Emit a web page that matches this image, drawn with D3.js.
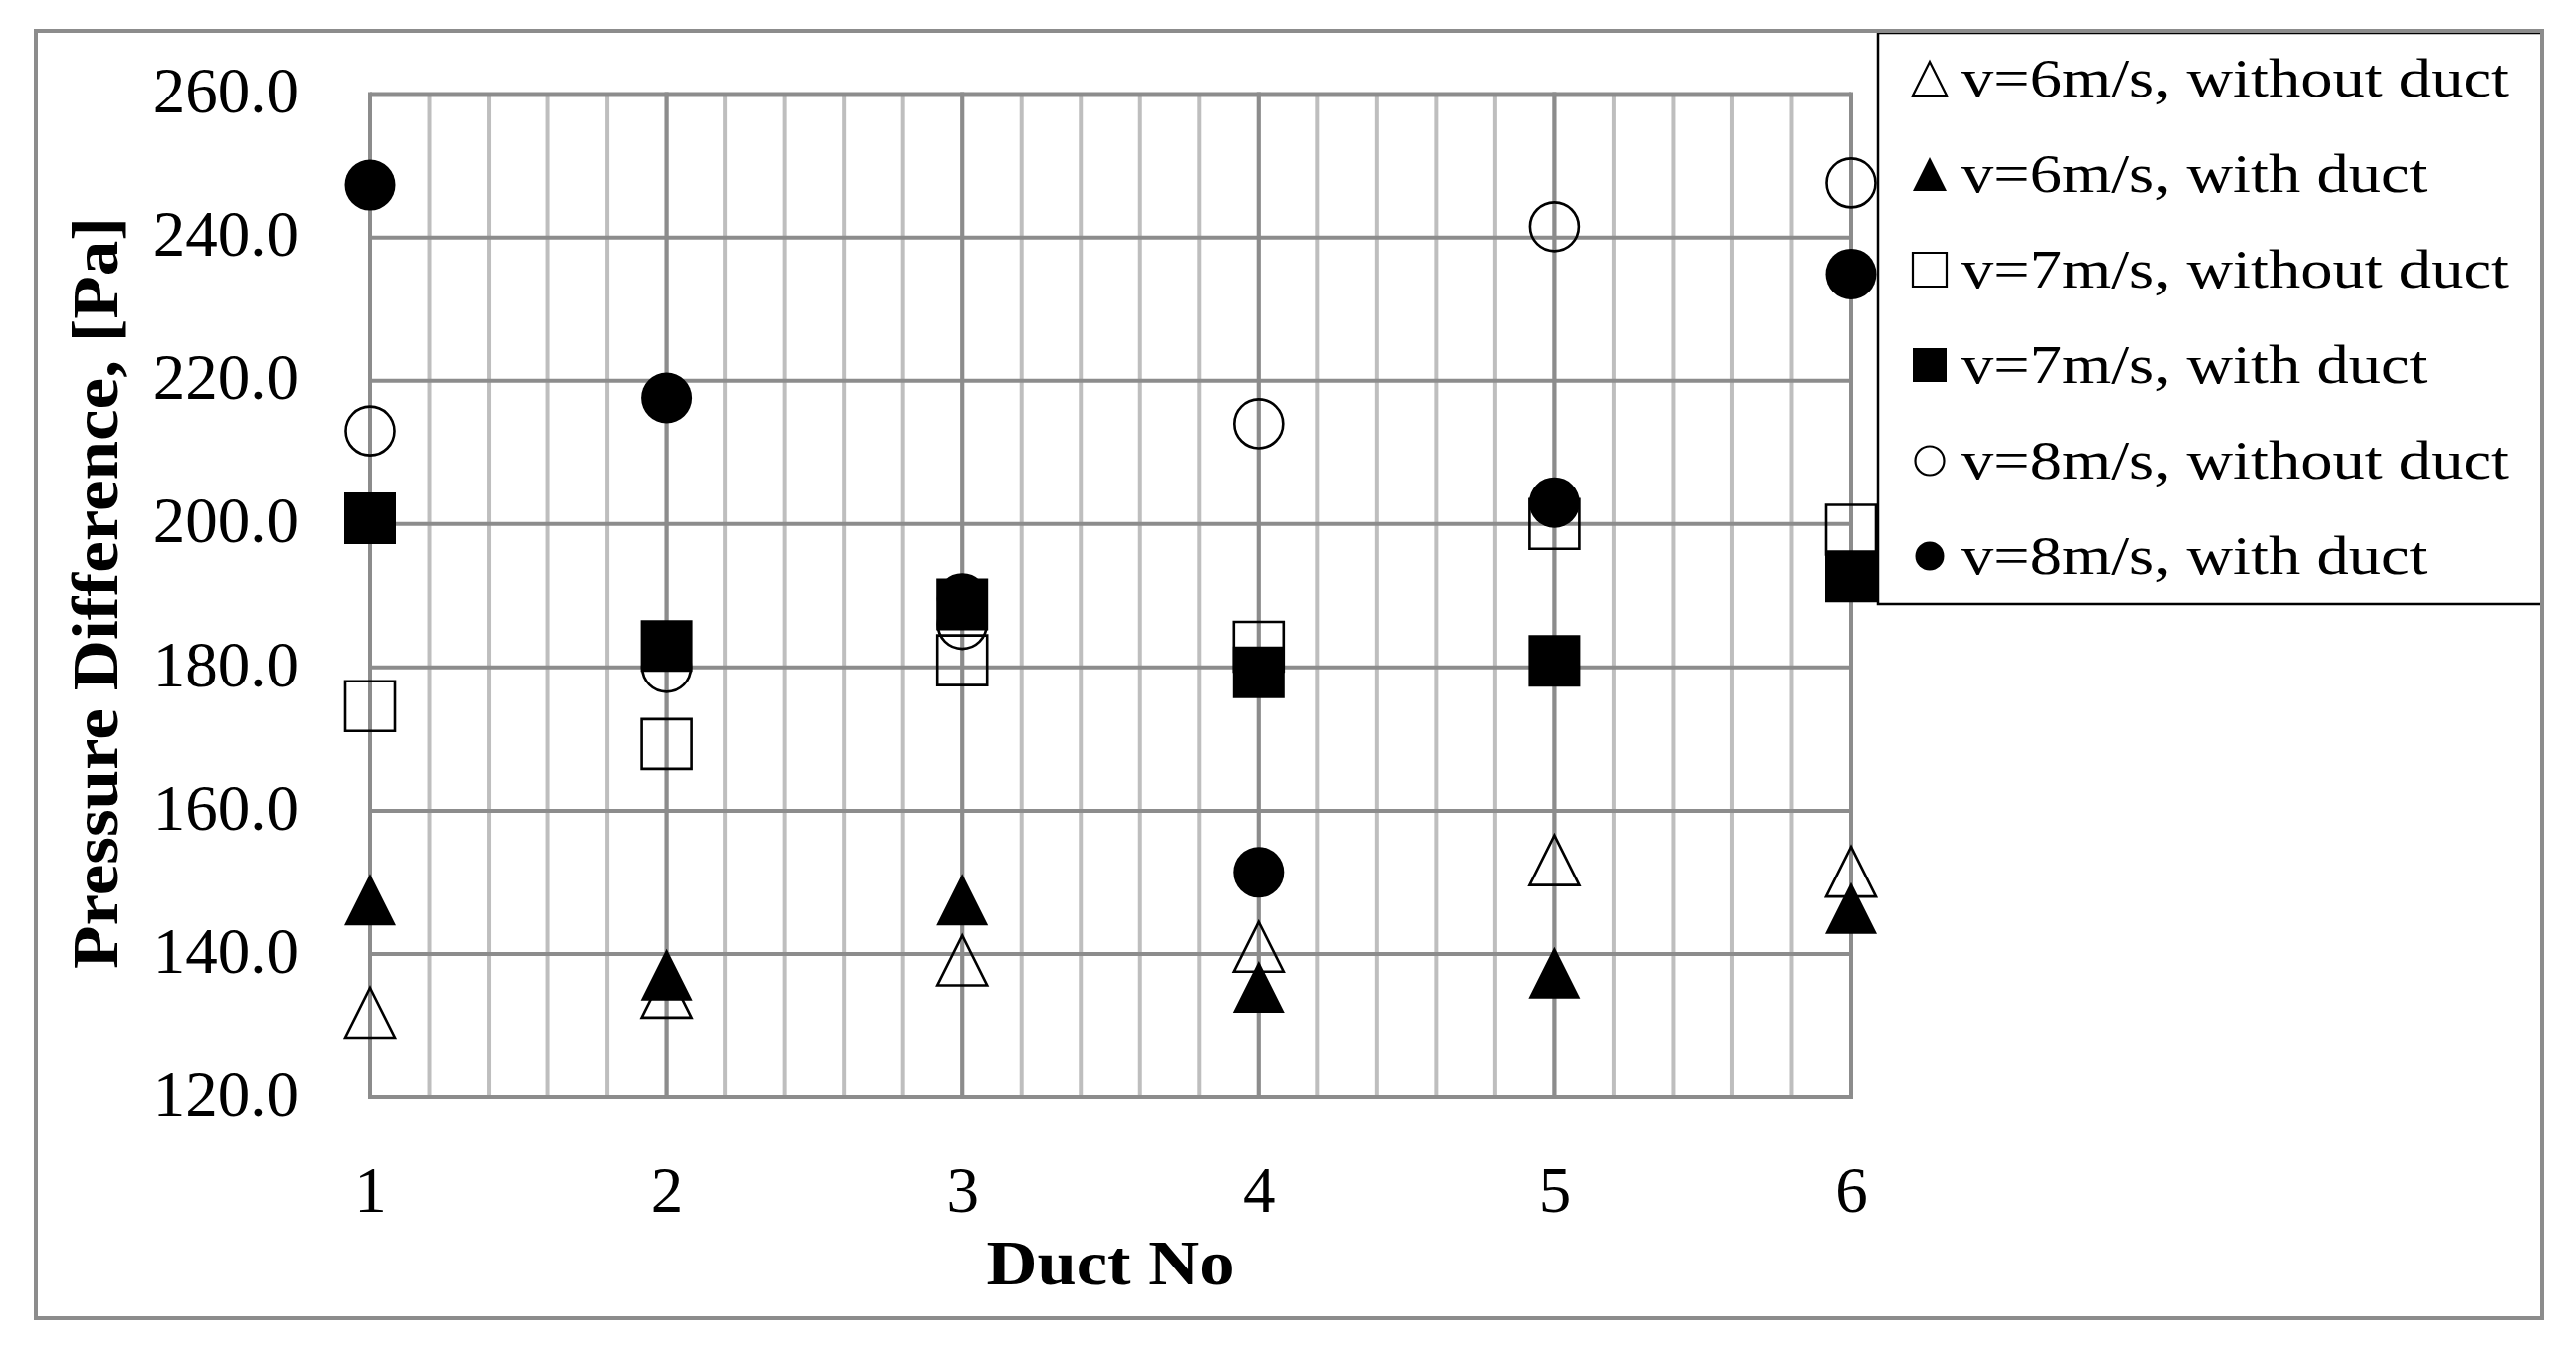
<!DOCTYPE html>
<meta charset='utf-8'>
<style>
  body { margin: 0; background: #ffffff; }
  text { font-family: 'Liberation Serif', 'Times New Roman', serif; fill: #000000; }
</style>
<body>
<script src='https://d3js.org/d3.v7.min.js'></script>
<script>

    // data
    var ducts = [1, 2, 3, 4, 5, 6];
    var seriesNames = ['v=6m/s, without duct', 'v=6m/s, with duct', 'v=7m/s, without duct',
                       'v=7m/s, with duct', 'v=8m/s, without duct', 'v=8m/s, with duct'];
    var v6Without = [131.8, 134.6, 139.1, 141.0, 153.1, 151.5];
    var v6With    = [147.6, 137.1, 147.6, 135.4, 137.4, 146.4];
    var v7Without = [174.6, 169.3, 181.0, 182.9, 200.0, 199.2];
    var v7With    = [200.8, 183.0, 188.8, 179.3, 180.9, 192.7];
    var v8Without = [213.0, 180.0, 186.0, 214.0, 241.5, 247.6];
    var v8With    = [247.3, 217.6, 189.6, 151.4, 203.0, 234.9];
    var yTicks = [120, 140, 160, 180, 200, 220, 240, 260];

    var width = 2589, height = 1371;
    var colors = { grid: '#8c8c8c', minor: '#bebebe', ink: '#000000' };
    var plot = { left: 372, right: 1860, top: 94.6, bottom: 1103 };

    var series = [
        { name: seriesNames[0], values: v6Without, shape: 'triangle', filled: false },
        { name: seriesNames[1], values: v6With,    shape: 'triangle', filled: true },
        { name: seriesNames[2], values: v7Without, shape: 'square',   filled: false },
        { name: seriesNames[3], values: v7With,    shape: 'square',   filled: true },
        { name: seriesNames[4], values: v8Without, shape: 'circle',   filled: false },
        { name: seriesNames[5], values: v8With,    shape: 'circle',   filled: true }
    ];

    var svg = d3.select('body').append('svg')
        .attr('width', width)
        .attr('height', height);

    svg.append('rect').attr('width', width).attr('height', height).attr('fill', '#ffffff');

    var x = d3.scaleLinear().domain([1, 6]).range([plot.left, plot.right]);
    var y = d3.scaleLinear().domain([120, 260]).range([plot.bottom, plot.top]);

    // minor vertical grid every 0.2
    var minorX = d3.range(0, 26).map(function(i){ return 1 + i * 0.2; });
    svg.append('g').selectAll('line')
        .data(minorX)
        .enter().append('line')
        .attr('x1', function(d){ return x(d); })
        .attr('x2', function(d){ return x(d); })
        .attr('y1', plot.top)
        .attr('y2', plot.bottom)
        .attr('stroke', colors.minor)
        .attr('stroke-width', 4);

    // major grid
    svg.append('g').selectAll('line')
        .data(yTicks)
        .enter().append('line')
        .attr('x1', plot.left)
        .attr('x2', plot.right)
        .attr('y1', function(d){ return y(d); })
        .attr('y2', function(d){ return y(d); })
        .attr('stroke', colors.grid)
        .attr('stroke-width', 4);

    svg.append('g').selectAll('line')
        .data(ducts)
        .enter().append('line')
        .attr('x1', function(d){ return x(d); })
        .attr('x2', function(d){ return x(d); })
        .attr('y1', plot.top - 2)
        .attr('y2', plot.bottom + 2)
        .attr('stroke', colors.grid)
        .attr('stroke-width', 4);

    // axes (labels only)
    var yAxis = svg.append('g')
        .attr('transform', 'translate(' + plot.left + ',0)')
        .call(d3.axisLeft(y).tickValues(yTicks).tickFormat(d3.format('.1f')).tickSize(0).tickPadding(72));
    var xAxis = svg.append('g')
        .attr('transform', 'translate(0,' + plot.bottom + ')')
        .call(d3.axisBottom(x).tickValues(ducts).tickFormat(d3.format('d')).tickSize(0).tickPadding(69));

    [yAxis, xAxis].forEach(function(g){
        g.select('.domain').remove();
        g.attr('font-family', null).attr('font-size', null);
        g.selectAll('text')
            .style('font-family', "'Liberation Serif', 'Times New Roman', serif")
            .style('font-size', '65px')
            .attr('fill', colors.ink);
    });
    yAxis.selectAll('text').attr('dy', '0.28em');

    function markerPath(shape, cx, cy, s){
        var h = s / 2;
        if(shape === 'triangle'){
            return 'M' + cx + ',' + (cy - h) + 'L' + (cx + h) + ',' + (cy + h) + 'L' + (cx - h) + ',' + (cy + h) + 'Z';
        } else if(shape === 'square'){
            return 'M' + (cx - h) + ',' + (cy - h) + 'h' + s + 'v' + s + 'h' + (-s) + 'Z';
        }
        return 'M' + (cx - h) + ',' + cy + 'a' + h + ',' + h + ' 0 1,0 ' + s + ',0' + 'a' + h + ',' + h + ' 0 1,0 ' + (-s) + ',0Z';
    }

    // points, drawn in series order
    series.forEach(function(s){
        var size = s.shape === 'circle' ? 49 : 50;
        svg.append('g').selectAll('path')
            .data(s.values)
            .enter().append('path')
            .attr('d', function(d, i){ return markerPath(s.shape, x(ducts[i]), y(d), s.filled ? size + 2 : size); })
            .attr('fill', s.filled ? colors.ink : 'none')
            .attr('stroke', s.filled ? 'none' : colors.ink)
            .attr('stroke-width', 2.6);
    });

    // axis titles
    var yTitle = svg.append('text')
        .attr('transform', 'translate(118,596) rotate(-90)')
        .attr('text-anchor', 'middle')
        .style('font-size', '66px')
        .style('font-weight', 'bold')
        .text('Pressure Difference, [Pa]');
    yTitle.attr('textLength', 756).attr('lengthAdjust', 'spacingAndGlyphs');

    svg.append('text')
        .attr('x', (plot.left + plot.right) / 2)
        .attr('y', 1291)
        .attr('text-anchor', 'middle')
        .style('font-size', '64px')
        .style('font-weight', 'bold')
        .attr('textLength', 249)
        .attr('lengthAdjust', 'spacingAndGlyphs')
        .text('Duct No');

    // legend
    var legend = svg.append('g');
    legend.append('rect')
        .attr('x', 1887)
        .attr('y', 33)
        .attr('width', 668)
        .attr('height', 574)
        .attr('fill', '#ffffff')
        .attr('stroke', colors.ink)
        .attr('stroke-width', 2.5);

    var rows = legend.selectAll('g.row')
        .data(series)
        .enter().append('g')
        .attr('class', 'row')
        .attr('transform', function(d, i){ return 'translate(1940,' + (79 + i * 96) + ')'; });

    rows.append('path')
        .attr('d', function(d){ return markerPath(d.shape, 0, 0, d.shape === 'circle' ? 29 : 34); })
        .attr('fill', function(d){ return d.filled ? colors.ink : 'none'; })
        .attr('stroke', function(d){ return d.filled ? 'none' : colors.ink; })
        .attr('stroke-width', 2.2);

    var labels = rows.append('text')
        .attr('x', 31)
        .attr('y', 18)
        .style('font-size', '54px')
        .text(function(d){ return d.name; });

    // stretch labels a bit so the longest row fills the box like the original
    var stretch = 551 / labels.nodes()[0].getComputedTextLength();
    labels.each(function(){
        var w = this.getComputedTextLength();
        d3.select(this).attr('textLength', w * stretch).attr('lengthAdjust', 'spacingAndGlyphs');
    });

    // outer frame
    svg.append('rect')
        .attr('x', 36)
        .attr('y', 31)
        .attr('width', 2519)
        .attr('height', 1294)
        .attr('fill', 'none')
        .attr('stroke', colors.grid)
        .attr('stroke-width', 4);

</script>
</body>
